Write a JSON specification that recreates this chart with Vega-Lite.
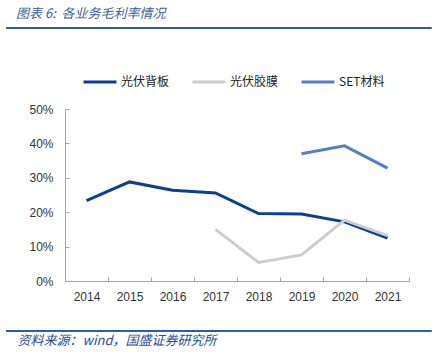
{
  "$schema": "https://vega.github.io/schema/vega-lite/v6.json",
  "width": 344,
  "height": 172,
  "autosize": {"type": "none"},
  "padding": {"left": 65, "top": 109, "right": 26, "bottom": 81},
  "background": "white",
  "title": {
    "text": "图表 6:\u00a0\u00a0各业务毛利率情况",
    "anchor": "start",
    "frame": "group",
    "dx": -49,
    "offset": 6,
    "font": "Noto Sans CJK SC",
    "fontSize": 13,
    "fontStyle": "italic",
    "fontWeight": "normal",
    "color": "#3A5E9C"
  },
  "datasets": {
    "series": [
      {"year": "2014", "series": "光伏背板", "value": 0.234},
      {"year": "2015", "series": "光伏背板", "value": 0.288},
      {"year": "2016", "series": "光伏背板", "value": 0.264},
      {"year": "2017", "series": "光伏背板", "value": 0.256},
      {"year": "2018", "series": "光伏背板", "value": 0.196},
      {"year": "2019", "series": "光伏背板", "value": 0.195},
      {"year": "2020", "series": "光伏背板", "value": 0.172},
      {"year": "2021", "series": "光伏背板", "value": 0.125},
      {"year": "2017", "series": "光伏胶膜", "value": 0.150},
      {"year": "2018", "series": "光伏胶膜", "value": 0.054},
      {"year": "2019", "series": "光伏胶膜", "value": 0.076},
      {"year": "2020", "series": "光伏胶膜", "value": 0.177},
      {"year": "2021", "series": "光伏胶膜", "value": 0.132},
      {"year": "2019", "series": "SET材料", "value": 0.370},
      {"year": "2020", "series": "SET材料", "value": 0.393},
      {"year": "2021", "series": "SET材料", "value": 0.328}
    ],
    "blank": [{}]
  },
  "layer": [
    {
      "data": {"name": "series"},
      "mark": {"type": "line", "strokeWidth": 3},
      "encoding": {
        "x": {
          "field": "year",
          "type": "ordinal",
          "scale": {"type": "band", "paddingInner": 0, "paddingOuter": 0},
          "axis": {
            "tickBand": "extent",
            "labelAngle": 0,
            "tickSize": -4,
            "labelPadding": 14,
            "title": "资料来源：wind，国盛证券研究所",
            "titleFont": "Noto Sans CJK SC",
            "titleFontSize": 13,
            "titleFontStyle": "italic",
            "titleFontWeight": "normal",
            "titleColor": "#1F4E9A",
            "titleAnchor": "start",
            "titleAlign": "left",
            "titleBaseline": "middle",
            "titleX": -48,
            "titleY": 59
          }
        },
        "y": {
          "field": "value",
          "type": "quantitative",
          "scale": {"domain": [0, 0.5], "nice": false, "zero": true},
          "axis": {
            "values": [0, 0.1, 0.2, 0.3, 0.4, 0.5],
            "format": ".0%",
            "tickSize": -4,
            "labelPadding": 16,
            "labelOverlap": false,
            "title": null
          }
        },
        "color": {
          "field": "series",
          "type": "nominal",
          "sort": ["光伏背板", "光伏胶膜", "SET材料"],
          "scale": {
            "domain": ["光伏背板", "光伏胶膜", "SET材料"],
            "range": ["#0B3F93", "#CDCDCD", "#4F81C4"]
          },
          "legend": {
            "title": null,
            "orient": "none",
            "legendX": 17,
            "legendY": -45,
            "direction": "horizontal",
            "symbolType": "stroke",
            "symbolSize": 1089,
            "symbolStrokeWidth": 3,
            "labelFont": "Noto Sans CJK SC",
            "labelFontSize": 12,
            "labelColor": "#222222",
            "labelOffset": 3,
            "columnPadding": 16
          }
        }
      }
    },
    {
      "data": {"name": "blank"},
      "mark": {"type": "rule", "color": "#2E5DA6", "strokeWidth": 2},
      "encoding": {
        "x": {"datum": 2012.13, "type": "quantitative", "scale": {"domain": [2013.5, 2021.5], "nice": false, "zero": false}, "axis": null},
        "x2": {"datum": 2022.03},
        "y": {"datum": 0.7355, "type": "quantitative", "axis": null}
      }
    },
    {
      "data": {"name": "blank"},
      "mark": {"type": "rule", "color": "#2E5DA6", "strokeWidth": 2},
      "encoding": {
        "x": {"datum": 2012.13, "type": "quantitative", "scale": {"domain": [2013.5, 2021.5], "nice": false, "zero": false}, "axis": null},
        "x2": {"datum": 2022.03},
        "y": {"datum": -0.1453, "type": "quantitative", "axis": null}
      }
    }
  ],
  "resolve": {"scale": {"x": "independent"}, "axis": {"y": "independent"}},
  "config": {
    "view": {"stroke": null},
    "axis": {
      "grid": false,
      "domainColor": "#A6A6A6",
      "tickColor": "#A6A6A6",
      "labelFont": "Liberation Sans",
      "labelFontSize": 12,
      "labelColor": "#333333"
    }
  }
}
